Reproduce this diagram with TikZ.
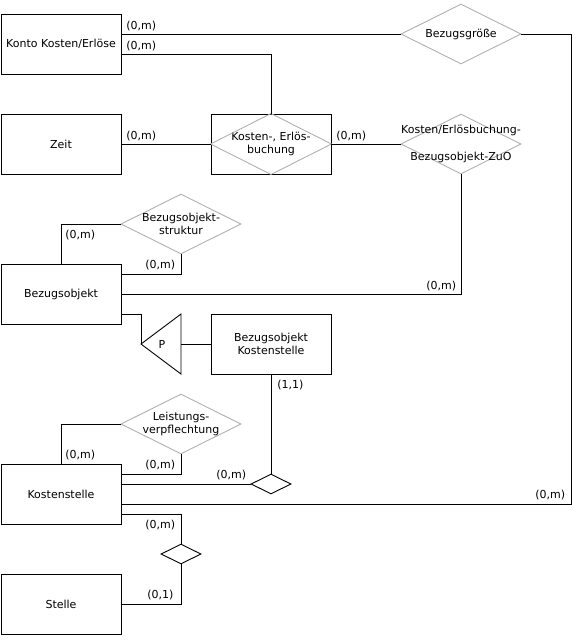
\documentclass[tikz,border=0pt]{standalone}
\usepackage{fontspec}
\setmainfont{DejaVu Sans}
\usetikzlibrary{shapes.geometric}
\definecolor{relgrey}{HTML}{B0B0B0}
\begin{document}
\begin{tikzpicture}[x=1pt,y=-1pt,line width=0.9pt,
  every node/.style={font=\fontsize{11}{13.5}\selectfont},
  entity/.style={draw,rectangle,minimum width=120pt,minimum height=60pt,inner sep=0pt,align=center},
  bigrel/.style={draw=relgrey,diamond,minimum width=120pt,minimum height=60pt,inner sep=0pt,aspect=2},
  smallrel/.style={draw,diamond,minimum width=40pt,minimum height=20pt,inner sep=0pt,aspect=2},
  card/.style={anchor=base west,inner sep=0pt}
]
\useasboundingbox (0,0) rectangle (582,641);

% entities
\node[entity] (konto) at (61,44) {Konto Kosten/Erlöse};
\node[entity] (zeit) at (61,144) {Zeit};
\node[entity] (kbuch) at (271,144) {Kosten-, Erlös-\\buchung};
\node[entity] (bobj) at (61,294) {Bezugsobjekt};
\node[entity] (bokst) at (271,344) {Bezugsobjekt\\Kostenstelle};
\node[entity] (kst) at (61,494) {Kostenstelle};
\node[entity] (stelle) at (61,604) {Stelle};
\draw[relgrey] (kbuch.west) -- (kbuch.north) -- (kbuch.east) -- (kbuch.south) -- cycle;

% relationships
\node[bigrel,label={center:Bezugsgröße}] (bzg) at (461,34) {};
\node[bigrel,label={[align=center]center:Kosten/Erlösbuchung-\\[13pt]Bezugsobjekt-ZuO}] (zuo) at (461,144) {};
\node[bigrel,label={[align=center]center:Bezugsobjekt-\\struktur}] (bstr) at (181,224) {};
\node[bigrel,label={[align=center]center:Leistungs-\\verpflechtung}] (leist) at (181,424) {};
\node[smallrel] (d1) at (271,484) {};
\node[smallrel] (d2) at (181,554) {};

% specialisation triangle
\coordinate (papex) at (141,344);
\coordinate (pbase) at (181,344);
\draw (papex) -- (181,314) -- (181,374) -- cycle;
\node (p) at (162,344) {P};

% connectors
\draw ([yshift=10pt]konto.east) -- (bzg.west);
\draw (bzg.east) -- ++(50,0) |- ([yshift=-10pt]kst.east);
\draw ([yshift=-10pt]konto.east) -| (kbuch.north);
\draw (zeit.east) -- (kbuch.west);
\draw (kbuch.east) -- (zuo.west);
\draw (zuo.south) |- (bobj.east);
\draw (bobj.north) |- (bstr.west);
\draw ([yshift=20pt]bobj.east) -| (bstr.south);
\draw ([yshift=-20pt]bobj.east) -| (papex);
\draw (pbase) -- (bokst.west);
\draw (bokst.south) -- (d1.north);
\draw (kst.north) |- (leist.west);
\draw ([yshift=20pt]kst.east) -| (leist.south);
\draw ([yshift=10pt]kst.east) -- (d1.west);
\draw ([yshift=-20pt]kst.east) -| (d2.north);
\draw (d2.south) |- (stelle.east);

% cardinalities
\node[card] (c1) at (126,29.5) {(0,m)};
\node[card] (c2) at (126,49) {(0,m)};
\node[card] (c3) at (126,139) {(0,m)};
\node[card] (c4) at (336,139) {(0,m)};
\node[card] (c5) at (426,289) {(0,m)};
\node[card] (c6) at (65,238.5) {(0,m)};
\node[card] (c7) at (145,268.5) {(0,m)};
\node[card] (c8) at (277,388) {(1,1)};
\node[card] (c9) at (65,458.5) {(0,m)};
\node[card] (c10) at (145,468.5) {(0,m)};
\node[card] (c11) at (216,478.5) {(0,m)};
\node[card] (c12) at (535,498.5) {(0,m)};
\node[card] (c13) at (145,528.5) {(0,m)};
\node[card] (c14) at (147,598.5) {(0,1)};
\end{tikzpicture}
\end{document}
